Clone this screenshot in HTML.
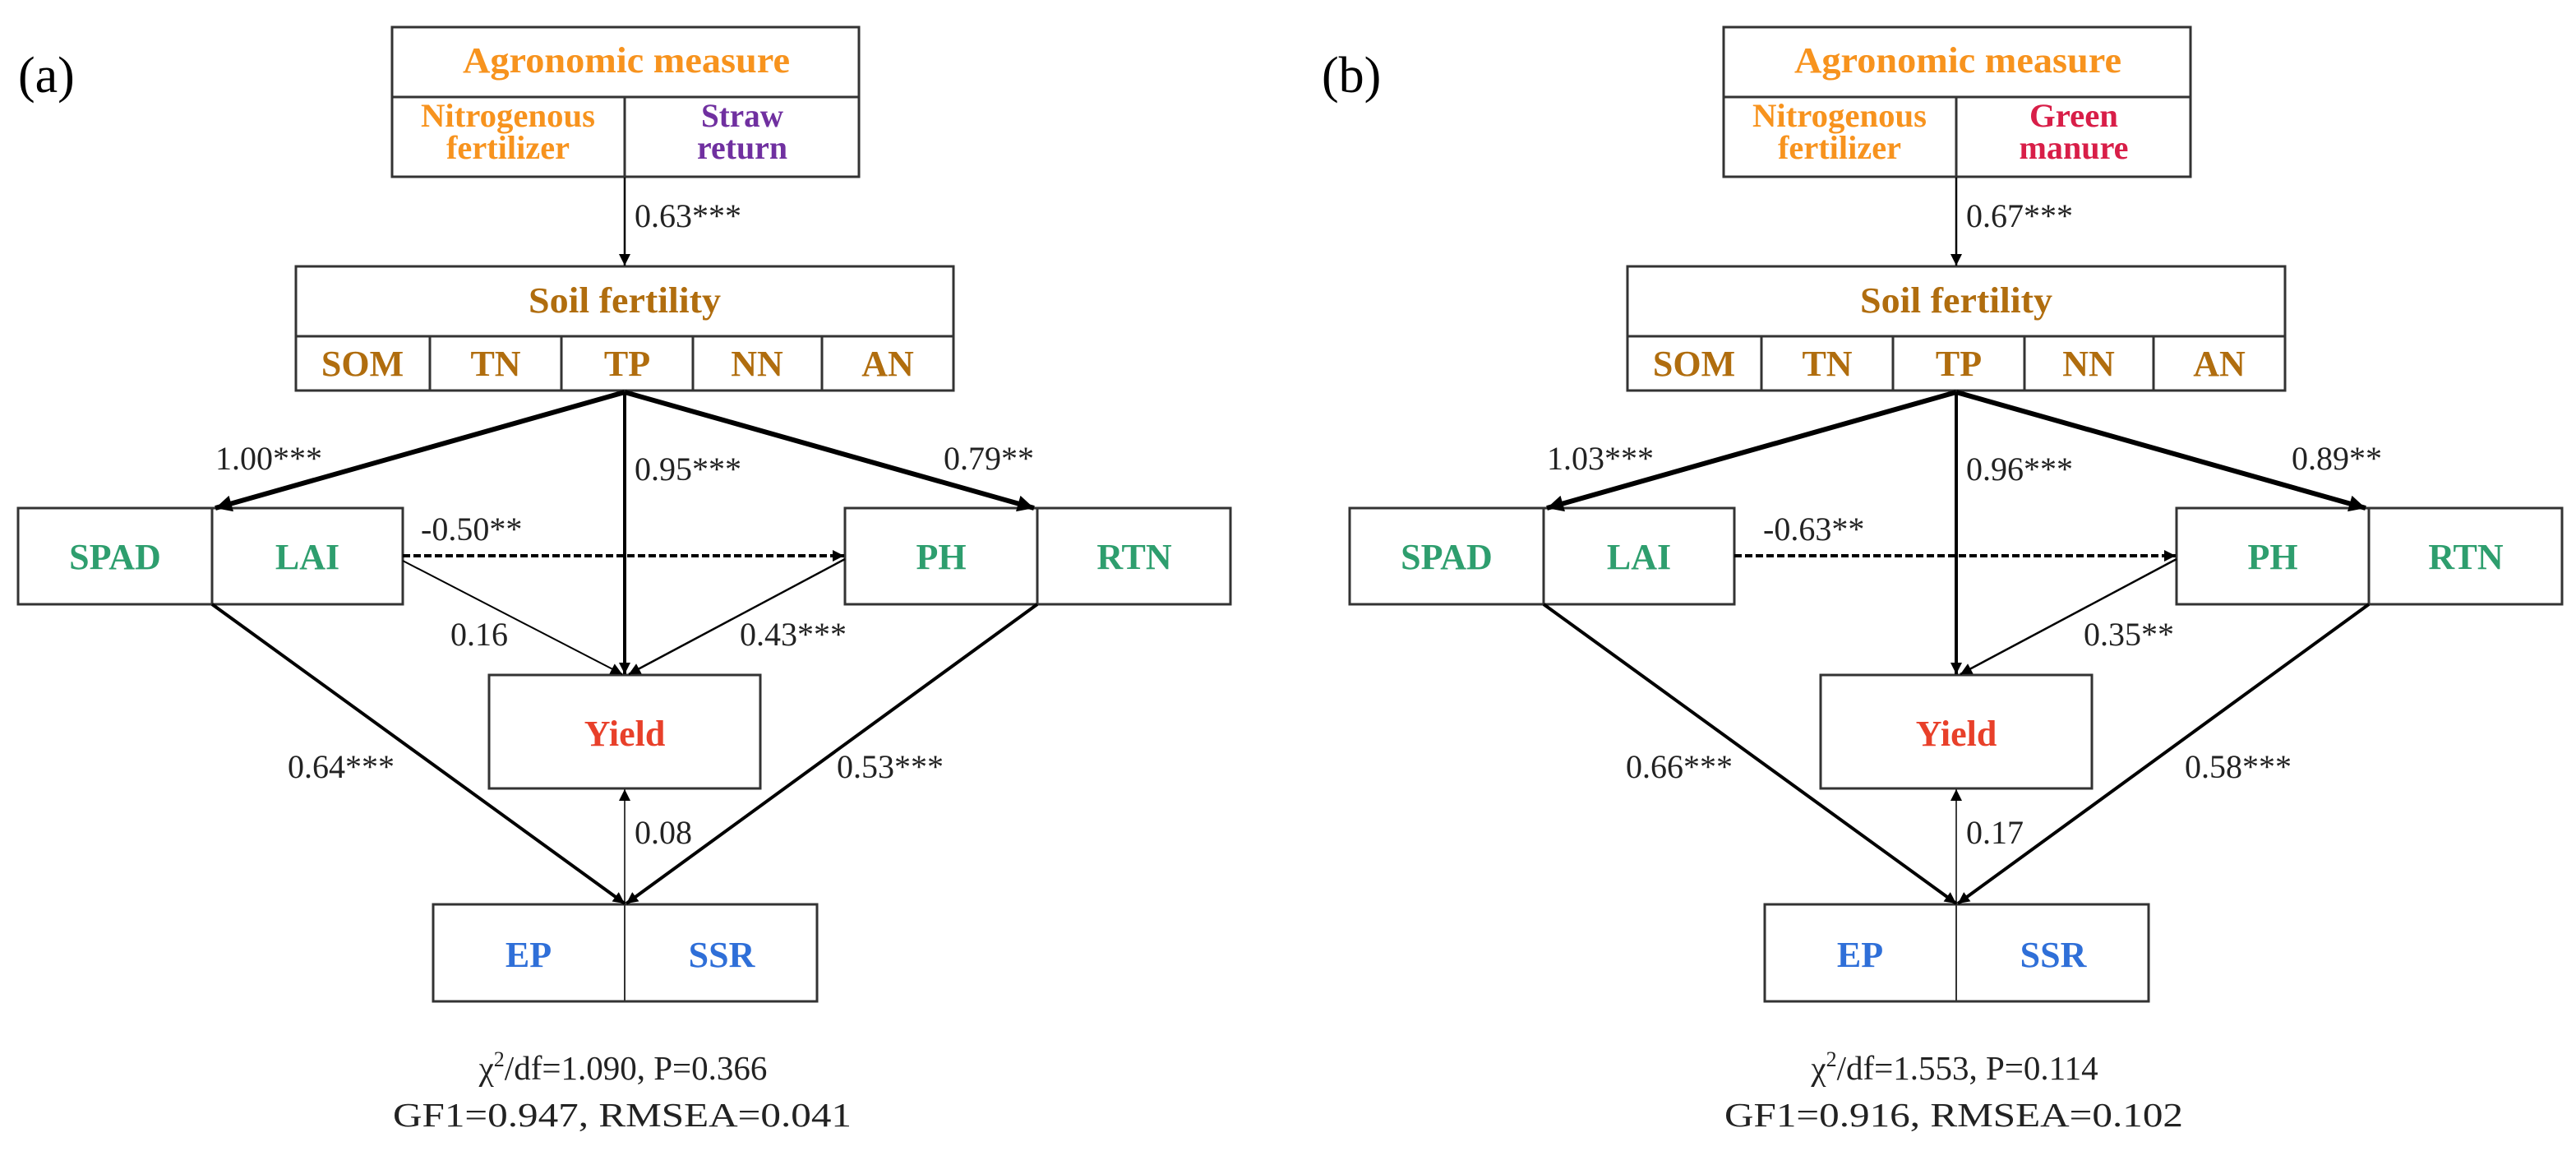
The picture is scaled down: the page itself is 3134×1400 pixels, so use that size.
<!DOCTYPE html>
<html><head><meta charset="utf-8"><style>html,body{margin:0;padding:0;background:#fff}svg{display:block}</style></head>
<body>
<svg width="3134" height="1400" viewBox="0 0 3134 1400" xmlns="http://www.w3.org/2000/svg" font-family="'Liberation Serif', serif">
<defs>
<marker id="ah" viewBox="0 0 10 10" refX="10" refY="5" markerWidth="16" markerHeight="14" markerUnits="userSpaceOnUse" orient="auto"><path d="M0,0 L10,5 L0,10 z" fill="#000"/></marker>
<marker id="ahb" viewBox="0 0 10 10" refX="10" refY="5" markerWidth="22" markerHeight="20" markerUnits="userSpaceOnUse" orient="auto"><path d="M0,0 L10,5 L0,10 z" fill="#000"/></marker>
<g id="common">
 <g fill="#fff" stroke="#333" stroke-width="3">
  <rect x="477" y="33" width="568" height="182"/>
  <line x1="477" y1="118" x2="1045" y2="118"/>
  <line x1="760" y1="118" x2="760" y2="215"/>
  <rect x="360" y="324" width="800" height="151"/>
  <line x1="360" y1="409" x2="1160" y2="409"/>
  <line x1="523" y1="409" x2="523" y2="475"/>
  <line x1="683" y1="409" x2="683" y2="475"/>
  <line x1="843" y1="409" x2="843" y2="475"/>
  <line x1="1000" y1="409" x2="1000" y2="475"/>
  <rect x="22" y="618" width="468" height="117"/>
  <line x1="258" y1="618" x2="258" y2="735"/>
  <rect x="1028" y="618" width="469" height="117"/>
  <line x1="1262" y1="618" x2="1262" y2="735"/>
  <rect x="595" y="821" width="330" height="138"/>
  <rect x="527" y="1100" width="467" height="118"/>
  <line x1="760" y1="1100" x2="760" y2="1218" stroke-width="2"/>
 </g>
 <g stroke="#000" fill="none">
  <line x1="760" y1="216" x2="760" y2="323" stroke-width="2.5" marker-end="url(#ah)"/>
  <line x1="760" y1="477" x2="262" y2="618" stroke-width="6" marker-end="url(#ahb)"/>
  <line x1="760" y1="477" x2="1258" y2="618" stroke-width="6" marker-end="url(#ahb)"/>
  <line x1="760" y1="477" x2="760" y2="820" stroke-width="4" marker-end="url(#ah)"/>
  <line x1="490" y1="676" x2="1027" y2="676" stroke-width="4" stroke-dasharray="9,4" marker-end="url(#ah)"/>
  <line x1="1028" y1="680" x2="765" y2="820" stroke-width="2.5" marker-end="url(#ah)"/>
  <line x1="258" y1="735" x2="760" y2="1099" stroke-width="4" marker-end="url(#ah)"/>
  <line x1="1262" y1="735" x2="762" y2="1099" stroke-width="4" marker-end="url(#ah)"/>
  <line x1="760" y1="1100" x2="760" y2="960" stroke-width="1.5" marker-end="url(#ah)"/>
 </g>
 <g font-weight="bold" font-size="44" text-anchor="middle">
  <text x="762" y="88" fill="#F7931E" textLength="398" lengthAdjust="spacingAndGlyphs">Agronomic measure</text>
  <text x="618" y="154" fill="#F7931E" font-size="40" textLength="212" lengthAdjust="spacingAndGlyphs">Nitrogenous</text>
  <text x="618" y="193" fill="#F7931E" font-size="40" textLength="150" lengthAdjust="spacingAndGlyphs">fertilizer</text>
  <text x="760" y="380" fill="#B06D0E" textLength="234" lengthAdjust="spacingAndGlyphs">Soil fertility</text>
  <text x="441" y="457" fill="#B06D0E">SOM</text>
  <text x="603" y="457" fill="#B06D0E">TN</text>
  <text x="763" y="457" fill="#B06D0E">TP</text>
  <text x="921" y="457" fill="#B06D0E">NN</text>
  <text x="1080" y="457" fill="#B06D0E">AN</text>
  <text x="140" y="692" fill="#2E9E6E">SPAD</text>
  <text x="374" y="692" fill="#2E9E6E">LAI</text>
  <text x="1145" y="692" fill="#2E9E6E">PH</text>
  <text x="1380" y="692" fill="#2E9E6E">RTN</text>
  <text x="760" y="907" fill="#E8402A">Yield</text>
  <text x="643" y="1176" fill="#2F6FD8">EP</text>
  <text x="878" y="1176" fill="#2F6FD8">SSR</text>
 </g>
</g>
</defs>

<!-- Panel a -->
<use href="#common"/>
<text x="22" y="112" font-size="62">(a)</text>
<line x1="490" y1="682" x2="757" y2="820" stroke="#000" stroke-width="2" marker-end="url(#ah)"/>
<g font-weight="bold" font-size="40" text-anchor="middle" fill="#7030A0">
 <text x="903" y="154" textLength="100" lengthAdjust="spacingAndGlyphs">Straw</text>
 <text x="903" y="193" textLength="110" lengthAdjust="spacingAndGlyphs">return</text>
</g>
<g font-size="40" fill="#222">
 <text x="772" y="276">0.63***</text>
 <text x="262" y="571">1.00***</text>
 <text x="772" y="584">0.95***</text>
 <text x="1148" y="571">0.79**</text>
 <text x="512" y="657">-0.50**</text>
 <text x="548" y="785">0.16</text>
 <text x="900" y="785">0.43***</text>
 <text x="350" y="946">0.64***</text>
 <text x="1018" y="946">0.53***</text>
 <text x="772" y="1026">0.08</text>
</g>
<g font-size="41" fill="#222" text-anchor="middle">
 <text x="758" y="1313">χ<tspan font-size="26" dy="-16">2</tspan><tspan dy="16">/df=1.090, P=0.366</tspan></text>
 <text x="757" y="1370" textLength="558" lengthAdjust="spacingAndGlyphs">GF1=0.947, RMSEA=0.041</text>
</g>

<!-- Panel b -->
<g transform="translate(1620,0)">
<use href="#common"/>
<text x="-12" y="112" font-size="62">(b)</text>
<g font-weight="bold" font-size="40" text-anchor="middle" fill="#D81E48">
 <text x="903" y="154" textLength="108" lengthAdjust="spacingAndGlyphs">Green</text>
 <text x="903" y="193" textLength="133" lengthAdjust="spacingAndGlyphs">manure</text>
</g>
<g font-size="40" fill="#222">
 <text x="772" y="276">0.67***</text>
 <text x="262" y="571">1.03***</text>
 <text x="772" y="584">0.96***</text>
 <text x="1168" y="571">0.89**</text>
 <text x="525" y="657">-0.63**</text>
 <text x="915" y="785">0.35**</text>
 <text x="358" y="946">0.66***</text>
 <text x="1038" y="946">0.58***</text>
 <text x="772" y="1026">0.17</text>
</g>
<g font-size="41" fill="#222" text-anchor="middle">
 <text x="758" y="1313">χ<tspan font-size="26" dy="-16">2</tspan><tspan dy="16">/df=1.553, P=0.114</tspan></text>
 <text x="757" y="1370" textLength="558" lengthAdjust="spacingAndGlyphs">GF1=0.916, RMSEA=0.102</text>
</g>
</g>
</svg>
</body></html>
